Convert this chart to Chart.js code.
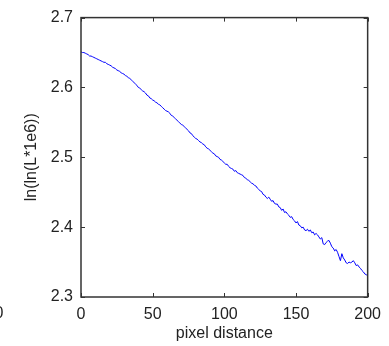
<!DOCTYPE html>
<html>
<head>
<meta charset="utf-8">
<script src="https://cdn.jsdelivr.net/npm/chart.js@4"></script>
<style>
  html, body { margin: 0; padding: 0; background: #fff; }
  #wrap { width: 389px; height: 346px; }
</style>
</head>
<body>
<div id="wrap"><canvas id="myChart" width="389" height="346"></canvas></div>
<script>
// pixel distance 0..200, one value per pixel
let distance = [];
for (let i = 0; i <= 200; i++) distance.push(i);

let lnValues = [
  2.651, 2.650, 2.650, 2.649, 2.648, 2.647, 2.645, 2.645, 2.644, 2.643,
  2.642, 2.641, 2.640, 2.639, 2.638, 2.637, 2.636, 2.636, 2.634, 2.633,
  2.632, 2.631, 2.629, 2.628, 2.627, 2.625, 2.624, 2.623, 2.621, 2.620,
  2.619, 2.617, 2.616, 2.614, 2.613, 2.611, 2.609, 2.607, 2.605, 2.603,
  2.600, 2.599, 2.597, 2.595, 2.594, 2.592, 2.589, 2.588, 2.585, 2.584,
  2.582, 2.581, 2.579, 2.578, 2.576, 2.575, 2.573, 2.571, 2.569, 2.567,
  2.566, 2.565, 2.563, 2.560, 2.559, 2.557, 2.555, 2.553, 2.551, 2.549,
  2.547, 2.546, 2.544, 2.542, 2.540, 2.538, 2.535, 2.534, 2.531, 2.529,
  2.527, 2.526, 2.524, 2.522, 2.521, 2.519, 2.518, 2.515, 2.513, 2.512,
  2.510, 2.508, 2.506, 2.505, 2.502, 2.501, 2.500, 2.497, 2.496, 2.494,
  2.492, 2.490, 2.490, 2.487, 2.485, 2.484, 2.483, 2.480, 2.481, 2.478,
  2.477, 2.476, 2.475, 2.474, 2.471, 2.470, 2.468, 2.467, 2.465, 2.463,
  2.462, 2.460, 2.459, 2.456, 2.454, 2.452, 2.451, 2.447, 2.446, 2.443,
  2.441, 2.443, 2.440, 2.437, 2.438, 2.434, 2.433, 2.433, 2.429, 2.428,
  2.424, 2.426, 2.421, 2.422, 2.419, 2.417, 2.414, 2.415, 2.411, 2.409,
  2.406, 2.408, 2.403, 2.402, 2.399, 2.400, 2.396, 2.395, 2.397, 2.394,
  2.396, 2.392, 2.393, 2.389, 2.391, 2.389, 2.386, 2.383, 2.385, 2.376,
  2.375, 2.378, 2.380, 2.381, 2.377, 2.372, 2.370, 2.366, 2.368, 2.364,
  2.358, 2.352, 2.362, 2.356, 2.353, 2.349, 2.348, 2.350, 2.349, 2.350,
  2.352, 2.349, 2.345, 2.346, 2.343, 2.341, 2.338, 2.336, 2.333, 2.332,
  2.330
];

let xTicks = [0, 50, 100, 150, 200];
let yTicks = [2.3, 2.4, 2.5, 2.6, 2.7];

const fontFamily = "'Liberation Sans', Arial, sans-serif";

// matlab style box with inward ticks
const boxTicks = {
  id: "boxTicks",
  afterDraw(chart) {
    const ctx = chart.ctx;
    const a = chart.chartArea;
    const xs = chart.scales.x;
    const ys = chart.scales.y;
    const len = 4;
    ctx.save();
    ctx.strokeStyle = "#333";
    ctx.lineWidth = 1.5;
    ctx.strokeRect(a.left, a.top, a.right - a.left, a.bottom - a.top);
    ctx.lineWidth = 1;
    ctx.beginPath();
    xTicks.forEach((v) => {
      const px = Math.round(xs.getPixelForValue(v)) + 0.5;
      ctx.moveTo(px, a.bottom);
      ctx.lineTo(px, a.bottom - len);
      ctx.moveTo(px, a.top);
      ctx.lineTo(px, a.top + len);
    });
    yTicks.forEach((v) => {
      const py = Math.round(ys.getPixelForValue(v)) + 0.5;
      ctx.moveTo(a.left, py);
      ctx.lineTo(a.left + len, py);
      ctx.moveTo(a.right, py);
      ctx.lineTo(a.right - len, py);
    });
    ctx.stroke();
    // cut off label of the neighbouring plot
    ctx.fillStyle = "#222";
    ctx.font = "16px " + fontFamily;
    ctx.textAlign = "right";
    ctx.textBaseline = "middle";
    ctx.fillText("0", 3.5, 314);
    ctx.restore();
  },
};

const ctx = document.getElementById("myChart");

let myChart = new Chart(ctx, {
  type: "line",
  data: {
    labels: distance,
    datasets: [
      {
        data: lnValues,
        borderColor: "#0000ff",
        borderWidth: 1,
        pointRadius: 0,
        tension: 0,
        fill: false,
      },
    ],
  },
  options: {
    responsive: false,
    animation: false,
    layout: { padding: { left: 0, right: 16, top: 15, bottom: 0 } },
    plugins: { legend: { display: false }, tooltip: { enabled: false } },
    scales: {
      x: {
        type: "linear",
        min: 0,
        max: 200,
        afterFit: (s) => { s.height = 49; },
        afterBuildTicks: (s) => { s.ticks = xTicks.map((v) => ({ value: v })); },
        grid: { display: false, drawTicks: false },
        border: { display: false },
        ticks: {
          padding: 8,
          color: "#222",
          font: { family: fontFamily, size: 16 },
          maxRotation: 0,
          callback: (v) => String(v),
        },
        title: {
          display: true,
          text: "pixel distance",
          color: "#222",
          font: { family: fontFamily, size: 16 },
          padding: { top: 0, bottom: 3 },
        },
      },
      y: {
        min: 2.3,
        max: 2.7,
        afterFit: (s) => { s.width = 81; },
        afterBuildTicks: (s) => { s.ticks = yTicks.map((v) => ({ value: v })); },
        grid: { display: false, drawTicks: false },
        border: { display: false },
        ticks: {
          padding: 8,
          color: "#222",
          font: { family: fontFamily, size: 16 },
          callback: (v) => v.toFixed(1),
        },
        title: {
          display: true,
          text: "ln(ln(L*1e6))",
          color: "#222",
          font: { family: fontFamily, size: 16 },
          padding: { top: 22, bottom: 0 },
        },
      },
    },
  },
  plugins: [boxTicks],
});
</script>
</body>
</html>
